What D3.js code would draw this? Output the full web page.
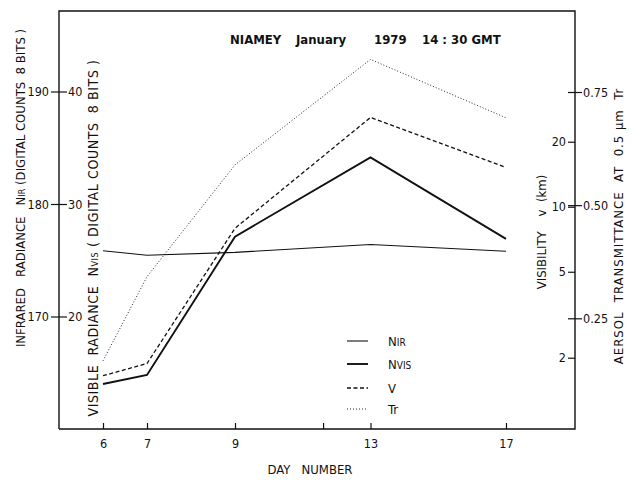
<!DOCTYPE html>
<html>
<head>
<meta charset="utf-8">
<script src="https://cdn.jsdelivr.net/npm/d3@7"></script>
<style>
body { margin: 0; background: #fff; }
text { font-family: "Liberation Sans Narrow", "DejaVu Sans Condensed", sans-serif; fill: #111; }
.axis path { display: none; }
.axis line { stroke: #111; stroke-width: 1.2; }
.axis text { font-size: 12.5px; }
</style>
</head>
<body>
<div id="graph"></div>
<script>
// values
var days = [6, 7, 9, 13, 17];
var nirValues = [175.85, 175.45, 175.7, 176.4, 175.8];
var nvisValues = [14.0, 14.8, 27.1, 34.15, 26.9];
var visibilityValues = [1.65, 1.88, 7.95, 25.9, 15.2];
var transValues = [0.156, 0.342, 0.589, 0.822, 0.693];

var dayTicks = [6, 7, 9, 11.6, 13, 17];
var dayTickLabels = ["6", "7", "9", "", "13", "17"];
var nirTicks = [170, 180, 190];
var nvisTicks = [20, 30, 40];
var visTicks = [2, 5, 10, 20];
var transTicks = [0.25, 0.5, 0.75];
var transTickLabels = ["0.25", "0.50", "0.75"];

var W = 633, H = 483;
var frame = { left: 59, right: 575, top: 11, bottom: 429 };

var svg = d3.select("#graph").append("svg")
    .attr("width", W)
    .attr("height", H);

// day axis is not evenly spaced in the original drawing
var x = d3.scaleLinear().domain([6, 9, 17]).range([103, 235, 506]);
var yNir = d3.scaleLinear().domain([170, 190]).range([316.5, 91.5]);
var yNvis = d3.scaleLinear().domain([20, 40]).range([316.5, 91.5]);
var yVis = d3.scaleLog().domain([2, 20]).range([357.7, 141.7]);
var yTr = d3.scaleLinear().domain([0.25, 0.75]).range([318.3, 92]);

// frame
svg.append("path")
    .attr("d", "M" + frame.left + "," + frame.bottom + "V" + frame.top + "H" + frame.right +
        "V" + frame.bottom + "H" + frame.left)
    .attr("fill", "none")
    .attr("stroke", "#111")
    .attr("stroke-width", 1.4);

// axes
svg.append("g").attr("class", "axis")
    .attr("transform", "translate(" + frame.left + ",0)")
    .call(d3.axisLeft(yNir).tickValues(nirTicks).tickSize(8).tickPadding(2));

svg.append("g").attr("class", "axis")
    .attr("transform", "translate(" + frame.left + ",0)")
    .call(d3.axisRight(yNvis).tickValues(nvisTicks).tickSize(8).tickPadding(1));

svg.append("g").attr("class", "axis")
    .attr("transform", "translate(" + frame.right + ",0)")
    .call(d3.axisLeft(yVis).tickValues(visTicks).tickFormat(d3.format("d")).tickSize(7).tickPadding(2));

var trAxis = svg.append("g").attr("class", "axis")
    .attr("transform", "translate(" + frame.right + ",0)")
    .call(d3.axisRight(yTr).tickValues(transTicks)
        .tickFormat(function (d, i) { return transTickLabels[i]; })
        .tickSize(7).tickPadding(1));
trAxis.selectAll(".tick line").attr("x1", -7);

svg.append("g").attr("class", "axis")
    .attr("transform", "translate(0," + frame.bottom + ")")
    .call(d3.axisBottom(x).tickValues(dayTicks)
        .tickFormat(function (d, i) { return dayTickLabels[i]; })
        .tickSizeInner(-6).tickSizeOuter(0).tickPadding(10));

// series
var series = [
    { name: "Nir", values: nirValues, y: yNir, width: 1.1, dash: null },
    { name: "Nvis", values: nvisValues, y: yNvis, width: 1.9, dash: null },
    { name: "V", values: visibilityValues, y: yVis, width: 1.3, dash: "4,2.5" },
    { name: "Tr", values: transValues, y: yTr, width: 0.9, dash: "1,2" }
];

var line = d3.line();
series.forEach(function (s) {
    svg.append("path")
        .attr("d", line(days.map(function (d, i) { return [x(d), s.y(s.values[i])]; })))
        .attr("fill", "none")
        .attr("stroke", "#111")
        .attr("stroke-width", s.width)
        .attr("stroke-dasharray", s.dash);
});

// legend
var legendRows = [341, 364, 388, 409];
var legend = svg.append("g");
series.forEach(function (s, i) {
    legend.append("line")
        .attr("x1", 347).attr("x2", 368)
        .attr("y1", legendRows[i]).attr("y2", legendRows[i])
        .attr("stroke", "#111")
        .attr("stroke-width", s.width)
        .attr("stroke-dasharray", s.dash);
});
function subLabel(sel, main, sub) {
    sel.append("tspan").text(main);
    if (sub) sel.append("tspan").attr("font-size", "10px").text(sub);
}
subLabel(legend.append("text").attr("x", 388).attr("y", legendRows[0] + 5).attr("font-size", "13px"), "N", "IR");
subLabel(legend.append("text").attr("x", 388).attr("y", legendRows[1] + 5).attr("font-size", "13px"), "N", "VIS");
subLabel(legend.append("text").attr("x", 388).attr("y", legendRows[2] + 5).attr("font-size", "13px"), "V", null);
subLabel(legend.append("text").attr("x", 388).attr("y", legendRows[3] + 5).attr("font-size", "13px"), "Tr", null);

// title
var title = [["NIAMEY", 230], ["January", 296], ["1979", 374], ["14 : 30 GMT", 422]];
title.forEach(function (t) {
    svg.append("text")
        .attr("x", t[1]).attr("y", 44)
        .attr("font-size", "13px")
        .attr("font-weight", "bold")
        .style("white-space", "pre")
        .text(t[0]);
});

// axis titles
var lab1 = svg.append("text")
    .attr("transform", "translate(25,188) rotate(-90)")
    .attr("text-anchor", "middle")
    .attr("font-size", "13px")
    .style("white-space", "pre");
lab1.append("tspan").text("INFRARED   RADIANCE   N");
lab1.append("tspan").attr("font-size", "9px").text("IR");
lab1.append("tspan").text(" (DIGITAL COUNTS  8 BITS )");

var lab2 = svg.append("text")
    .attr("transform", "translate(98,238) rotate(-90)")
    .attr("text-anchor", "middle")
    .attr("font-size", "14px")
    .attr("letter-spacing", "0.6px")
    .style("white-space", "pre");
lab2.append("tspan").text("VISIBLE  RADIANCE  N");
lab2.append("tspan").attr("font-size", "9px").text("VIS");
lab2.append("tspan").text(" ( DIGITAL COUNTS  8 BITS )");

svg.append("text")
    .attr("transform", "translate(546,232) rotate(-90)")
    .attr("text-anchor", "middle")
    .attr("font-size", "13px")
    .style("white-space", "pre")
    .text("VISIBILITY    v  (km)");

var lab4 = svg.append("text")
    .attr("transform", "translate(623,226) rotate(-90)")
    .attr("text-anchor", "middle")
    .attr("font-size", "13px")
    .attr("letter-spacing", "1px")
    .style("white-space", "pre");
lab4.append("tspan").text("AERSOL  TRANSMITTANCE  AT  0.5 ");
lab4.append("tspan").text("\u03bcm");
lab4.append("tspan").text("  Tr");

svg.append("text")
    .attr("x", 310).attr("y", 474)
    .attr("text-anchor", "middle")
    .attr("font-size", "13px")
    .style("white-space", "pre")
    .text("DAY   NUMBER");
</script>
</body>
</html>
